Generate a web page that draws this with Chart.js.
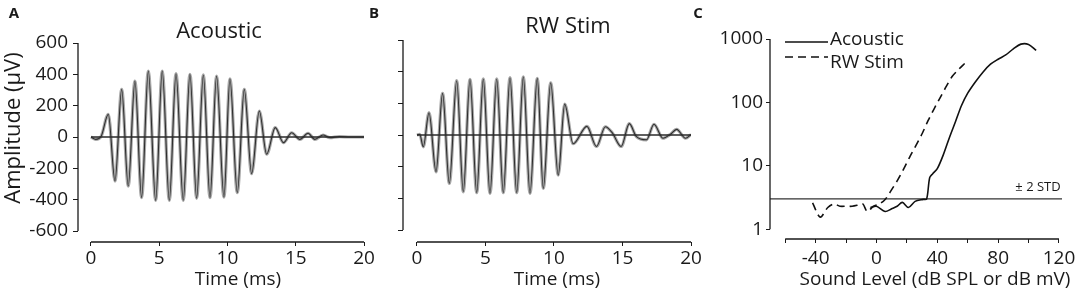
<!DOCTYPE html>
<html lang="en">
<head>
  <meta charset="UTF-8">
  <title>Acoustic vs RW Stim</title>
  <script src="https://cdn.jsdelivr.net/npm/chart.js"></script>
  <style>
    body { margin: 0; background: #fff; }
    #wrap { position: relative; width: 1084px; height: 303px; }
    #wrap canvas { position: absolute; left: 0; top: 0; }
  </style>
</head>
<body>
  <div id="wrap">
    <canvas id="panel-a" width="1084" height="303"></canvas>
    <canvas id="panel-b" width="1084" height="303"></canvas>
    <canvas id="panel-c" width="1084" height="303"></canvas>
  </div>

  <script>
    // Panel A - acoustic response, peaks/troughs (ms, uV)
    const acousticTime = [0, 0.35, 0.75, 1.27, 1.76, 2.25, 2.73, 3.22, 3.71, 4.2, 4.74, 5.22, 5.74, 6.23, 6.76,
      7.25, 7.74, 8.23, 8.72, 9.2, 9.74, 10.18, 10.72, 11.23, 11.77, 12.33, 12.87, 13.5, 14.1, 14.7, 15.3,
      15.9, 16.4, 17.0, 17.5, 18.2, 19.0, 20];
    const acousticAmp = [0, -15, 5, 145, -281, 304, -313, 357, -387, 421, -404, 421, -404, 404, -404,
      400, -391, 396, -387, 389, -383, 372, -355, 304, -234, 166, -110, 60, -36, 27, -15,
      24, -15, 13, -4, 3, 0, 0];

    // Panel B - round window stimulation response
    const rwTime = [0, 0.2, 0.46, 0.88, 1.39, 1.87, 2.36, 2.9, 3.38, 3.87, 4.36, 4.84, 5.33, 5.82, 6.3,
      6.79, 7.28, 7.76, 8.25, 8.78, 9.22, 9.76, 10.31, 10.78, 11.4, 12.4, 13.1, 13.75, 14.25, 14.9, 15.5,
      16.0, 16.75, 17.3, 17.95, 18.5, 18.95, 19.6, 20];
    const rwAmp = [0, 5, -74, 141, -232, 263, -305, 343, -358, 352, -364, 354, -368, 354, -364,
      362, -364, 368, -368, 358, -337, 330, -253, 195, -55, 55, -72, 52, 15, -72, 72,
      -8, -30, 68, -20, 5, 36, -20, 3];

    // flat control trace drawn in both waveform panels
    const baselineTime = [0, 20];
    const baselineAmp = [0, 0];

    const timeTicks = [0, 5, 10, 15, 20];
    const ampTicks = [-600, -400, -200, 0, 200, 400, 600];

    // Panel C - input/output functions
    const acLevel = [-4, 0, 5.7, 10, 13.6, 17, 21, 25.4, 30.7, 33, 35, 37, 40, 44, 48, 52, 56, 60, 65, 70,
      75, 80, 85, 90, 95, 100, 105];
    const acResp = [2.2, 2.3, 1.9, 2.1, 2.3, 2.65, 2.2, 2.75, 2.95, 3.0, 6.5, 7.5, 9, 15, 28, 50, 90, 140, 210, 300,
      400, 480, 560, 700, 830, 820, 660];
    const rwLevel = [-42, -37, -32, -28, -24, -20, -16, -12, -9, -6, -2, 2, 6, 10, 14, 18, 22, 26, 30, 34,
      38, 42, 46, 50, 54, 58];
    const rwResp = [2.6, 1.55, 2.2, 2.5, 2.3, 2.3, 2.3, 2.4, 2.5, 1.9, 2.3, 2.5, 3.0, 4.2, 6.0, 9, 14, 21, 32, 52,
      80, 120, 180, 260, 330, 410];
    const stdLevel = [-70, 122];
    const stdResp = [3, 3];

    const levelTicks = [-60, -40, -20, 0, 20, 40, 60, 80, 100, 120];
    const levelLabels = [-40, 0, 40, 80, 120];
    const respTicks = [1, 10, 100, 1000];

    const ink = '#1a1a1a';
    const font = '"Open Sans", "DejaVu Sans", sans-serif';

    function pts(xs, ys) {
      return xs.map((x, i) => ({ x: x, y: ys[i] }));
    }

    // axis lines (detached style) and free text
    const decor = {
      id: 'decor',
      afterDraw(chart, args, opts) {
        const ctx = chart.ctx;
        const sx = chart.scales.x, sy = chart.scales.y;
        const area = chart.chartArea;
        ctx.save();
        ctx.strokeStyle = ink;
        ctx.lineWidth = 1.3;
        ctx.beginPath();
        ctx.moveTo(sx.getPixelForValue(opts.xLine[0]), area.bottom);
        ctx.lineTo(sx.getPixelForValue(opts.xLine[1]), area.bottom);
        ctx.moveTo(area.left, sy.getPixelForValue(opts.yLine[0]));
        ctx.lineTo(area.left, sy.getPixelForValue(opts.yLine[1]));
        ctx.stroke();

        ctx.fillStyle = ink;
        ctx.textBaseline = 'alphabetic';
        (opts.texts || []).forEach(t => {
          ctx.save();
          ctx.font = t.font;
          ctx.textAlign = t.align || 'center';
          ctx.translate(t.x, t.y);
          if (t.rotate) ctx.rotate(t.rotate);
          ctx.fillText(t.text, 0, 0);
          ctx.restore();
        });

        // legend built from dataset styles
        if (opts.legend) {
          const lg = opts.legend;
          chart.data.datasets.forEach((ds, i) => {
            if (!ds.inLegend) return;
            const row = lg.rows[i];
            ctx.save();
            ctx.strokeStyle = ds.borderColor;
            ctx.lineWidth = ds.borderWidth;
            ctx.setLineDash(ds.borderDash || []);
            ctx.beginPath();
            ctx.moveTo(lg.x, row.line);
            ctx.lineTo(lg.x + lg.len, row.line);
            ctx.stroke();
            ctx.restore();
            ctx.font = lg.font;
            ctx.textAlign = 'left';
            ctx.fillText(ds.label, lg.x + lg.len + 2, row.text);
          });
        }
        ctx.restore();
      }
    };

    function waveChart(id, time, amp, cfg) {
      const ctx = document.getElementById(id).getContext('2d');
      // first dataset is painted last, so the dark trace sits on top of the gray one
      return new Chart(ctx, {
        type: 'line',
        data: {
          datasets: [
            {
              label: 'baseline',
              data: pts(baselineTime, baselineAmp),
              borderColor: '#2a2a2a',
              borderWidth: 1.4,
              pointRadius: 0
            },
            {
              label: 'trace',
              data: pts(time, amp),
              borderColor: '#2e2e2e',
              borderWidth: 1.1,
              pointRadius: 0,
              cubicInterpolationMode: 'monotone'
            },
            {
              label: 'trace gray',
              data: pts(time, amp),
              borderColor: '#a8a8a8',
              borderWidth: 3.2,
              pointRadius: 0,
              cubicInterpolationMode: 'monotone'
            }
          ]
        },
        options: {
          responsive: false,
          animation: false,
          layout: { padding: cfg.padding },
          plugins: {
            legend: { display: false },
            tooltip: { enabled: false },
            decor: {
              xLine: [0, 20],
              yLine: [-600, 600],
              texts: cfg.texts
            }
          },
          scales: {
            x: {
              type: 'linear',
              min: cfg.xMin,
              max: 20,
              afterBuildTicks: s => { s.ticks = timeTicks.map(v => ({ value: v })); },
              afterFit: s => { s.height = 61; },
              border: { display: false },
              grid: { drawOnChartArea: false, drawTicks: true, tickLength: 4, color: ink },
              ticks: { color: ink, padding: 1, font: { family: font, size: 19 }, maxRotation: 0 }
            },
            y: {
              min: cfg.yMin,
              max: 600,
              afterBuildTicks: s => { s.ticks = ampTicks.map(v => ({ value: v })); },
              afterFit: s => { s.width = cfg.yWidth; },
              border: { display: false },
              grid: { drawOnChartArea: false, drawTicks: true, tickLength: 5, color: ink },
              ticks: {
                color: ink,
                padding: 5,
                font: { family: font, size: 19 },
                callback: v => cfg.yLabels ? String(v) : ''
              }
            }
          }
        },
        plugins: [decor]
      });
    }

    // Panel A
    waveChart('panel-a', acousticTime, acousticAmp, {
      padding: { left: 0, right: 720, top: 43, bottom: 0 },
      xMin: -0.95,
      yMin: -670,
      yWidth: 78,
      yLabels: true,
      texts: [
        { text: 'A', x: 14, y: 18, font: 'bold 15px ' + font },
        { text: 'Acoustic', x: 219, y: 38, font: '22px ' + font },
        { text: 'Time (ms)', x: 238, y: 285, font: '19px ' + font },
        { text: 'Amplitude (\u00b5V)', x: 20, y: 128, rotate: -Math.PI / 2, font: '22px ' + font }
      ]
    });

    // Panel B
    waveChart('panel-b', rwTime, rwAmp, {
      padding: { left: 380, right: 393, top: 40, bottom: 0 },
      xMin: -1.02,
      yMin: -675,
      yWidth: 23,
      yLabels: false,
      texts: [
        { text: 'B', x: 374, y: 18, font: 'bold 15px ' + font },
        { text: 'RW Stim', x: 568, y: 33, font: '22px ' + font },
        { text: 'Time (ms)', x: 557, y: 285, font: '19px ' + font }
      ]
    });

    // Panel C
    new Chart(document.getElementById('panel-c').getContext('2d'), {
      type: 'line',
      data: {
        datasets: [
          {
            label: 'Acoustic',
            inLegend: true,
            data: pts(acLevel, acResp),
            borderColor: '#111',
            borderWidth: 1.6,
            pointRadius: 0,
            tension: 0.3
          },
          {
            label: 'RW Stim',
            inLegend: true,
            data: pts(rwLevel, rwResp),
            borderColor: '#111',
            borderWidth: 1.6,
            borderDash: [8, 5],
            pointRadius: 0,
            tension: 0.3
          },
          {
            label: '\u00b1 2 STD',
            data: pts(stdLevel, stdResp),
            borderColor: '#333',
            borderWidth: 1.2,
            pointRadius: 0
          }
        ]
      },
      options: {
        responsive: false,
        animation: false,
        layout: { padding: { left: 700, right: 22, top: 39, bottom: 0 } },
        plugins: {
          legend: { display: false },
          tooltip: { enabled: false },
          decor: {
            xLine: [-60, 120],
            yLine: [1, 1000],
            texts: [
              { text: 'C', x: 698, y: 18, font: 'bold 15px ' + font },
              { text: '\u00b1 2 STD', x: 1038, y: 191, font: '13px ' + font },
              { text: 'Sound Level (dB SPL or dB mV)', x: 935, y: 285, font: '19px ' + font }
            ],
            legend: {
              x: 785,
              len: 43,
              font: '19px ' + font,
              rows: [{ line: 42, text: 45 }, { line: 57, text: 68 }]
            }
          }
        },
        scales: {
          x: {
            type: 'linear',
            min: -70,
            max: 122,
            afterBuildTicks: s => { s.ticks = levelTicks.map(v => ({ value: v })); },
            afterFit: s => { s.height = 64; },
            border: { display: false },
            grid: { drawOnChartArea: false, drawTicks: true, tickLength: 4, color: ink },
            ticks: {
              color: ink,
              padding: 4,
              maxRotation: 0,
              autoSkip: false,
              font: { family: font, size: 19 },
              callback: v => levelLabels.includes(v) ? String(v) : ''
            }
          },
          y: {
            type: 'logarithmic',
            min: 0.72,
            max: 1000,
            afterBuildTicks: s => { s.ticks = respTicks.map(v => ({ value: v })); },
            afterFit: s => { s.width = 70; },
            border: { display: false },
            grid: { drawOnChartArea: false, drawTicks: true, tickLength: 4, color: ink },
            ticks: {
              color: ink,
              padding: 3,
              font: { family: font, size: 19 },
              callback: v => String(v)
            }
          }
        }
      },
      plugins: [decor]
    });
  </script>
</body>
</html>
